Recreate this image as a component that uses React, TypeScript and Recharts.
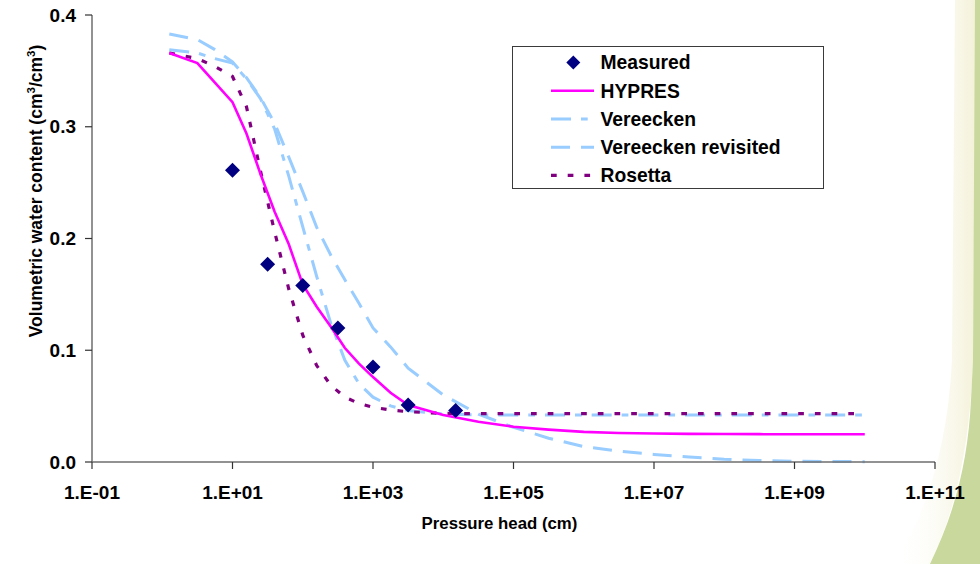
import React from 'react';
import { ComposedChart, Line, Scatter, XAxis, YAxis, Legend } from 'recharts';

// Pressure head (cm) at which model curves are sampled
const pressureHead = [1.26, 3.16, 5.62, 10, 15.8, 25.1, 39.8, 63.1, 100, 158, 251, 398, 631, 1000, 1778, 3162,
  1e4, 3.16e4, 1e5, 3.16e5, 1e6, 3.16e6, 1e7, 3.16e7, 1e8, 3.16e8, 1e9, 1e10];

const hypres = [0.366, 0.357, 0.3395, 0.322, 0.294, 0.2575, 0.224, 0.195, 0.159, 0.139, 0.121, 0.102, 0.088, 0.076, 0.062, 0.051,
  0.042, 0.036, 0.0316, 0.029, 0.027, 0.026, 0.0255, 0.0252, 0.025, 0.0249, 0.0248, 0.0248];

const vereecken = [0.369, 0.366, 0.361, 0.357, 0.343, 0.325, 0.298, 0.256, 0.2105, 0.166, 0.124, 0.091, 0.0701, 0.058, 0.0502, 0.046,
  0.043, 0.0422, 0.042, 0.042, 0.042, 0.042, 0.042, 0.042, 0.042, 0.042, 0.042, 0.042];

const vereeckenRevisited = [0.383, 0.378, 0.369, 0.358, 0.344, 0.326, 0.303, 0.273, 0.242, 0.21, 0.185, 0.163, 0.142, 0.12, 0.103, 0.084,
  0.06, 0.0428, 0.031, 0.0213, 0.0138, 0.0097, 0.0068, 0.0044, 0.0025, 0.0013, 0.0007, 0.0003];

const rosetta = [0.366, 0.361, 0.354, 0.345, 0.318, 0.26, 0.206, 0.155, 0.1135, 0.0863, 0.0686, 0.058, 0.0524, 0.049, 0.0465, 0.045,
  0.0435, 0.0432, 0.0432, 0.0432, 0.0432, 0.0432, 0.0432, 0.0432, 0.0432, 0.0432, 0.0432, 0.0432];

// Measured points
const measuredHead = [10, 31.6, 100, 316, 1000, 3160, 15000];
const measuredTheta = [0.261, 0.177, 0.158, 0.12, 0.085, 0.051, 0.046];

const xTicks = [0.1, 10, 1e3, 1e5, 1e7, 1e9, 1e11];
const yTicks = [0, 0.1, 0.2, 0.3, 0.4];

const legendOrder = ['Measured', 'HYPRES', 'Vereecken', 'Vereecken revisited', 'Rosetta'];

const FONT = '"Liberation Sans", Arial, Helvetica, sans-serif';

const STYLE: Record<string, { color: string; width: number; dash?: string; marker?: boolean }> = {
  Measured: { color: '#000080', width: 0, marker: true },
  HYPRES: { color: '#FF00FF', width: 2.6 },
  Vereecken: { color: '#99CCFF', width: 3, dash: '20 10 6.7 10' },
  'Vereecken revisited': { color: '#99CCFF', width: 3, dash: '19 11' },
  Rosetta: { color: '#800080', width: 3.2, dash: '5.7 11' },
};

const toRows = (ys: number[]) => pressureHead.map((h, i) => ({ h, theta: ys[i] }));
const hypresData = toRows(hypres);
const vereeckenData = toRows(vereecken);
const revisitedData = toRows(vereeckenRevisited);
const rosettaData = toRows(rosetta);
const measuredData = measuredHead.map((h, i) => ({ h, theta: measuredTheta[i] }));

const fmtX = (v: number) => {
  const e = Math.round(Math.log10(v));
  const sign = e < 0 ? '-' : '+';
  const a = Math.abs(e);
  return `1.E${sign}${a < 10 ? '0' + a : a}`;
};

const Diamond = (props: any) => {
  const { cx, cy } = props;
  if (cx == null || cy == null) return null;
  const r = 7.5;
  return <path d={`M${cx},${cy - r}L${cx + r},${cy}L${cx},${cy + r}L${cx - r},${cy}Z`} fill="#000080" />;
};

const renderLegend = () => {
  const w = 312;
  const h = 143;
  return (
    <svg width={w} height={h} style={{ display: 'block' }}>
      {legendOrder.map((name, i) => {
        const s = STYLE[name];
        const y = 15.6 + i * 28.2;
        return (
          <g key={name}>
            {s.marker ? (
              <path d={`M60.3,${y - 7}L67.3,${y}L60.3,${y + 7}L53.3,${y}Z`} fill={s.color} />
            ) : (
              <line x1={38} x2={81} y1={y} y2={y} stroke={s.color} strokeWidth={s.width} strokeDasharray={s.dash} />
            )}
            <text x={87.5} y={y + 6.8} fontFamily={FONT} fontWeight="bold" fontSize={19.3} fill="#000">
              {name}
            </text>
          </g>
        );
      })}
    </svg>
  );
};

const XTitle = (props: any) => {
  const vb = props.viewBox || {};
  const cx = (vb.x ?? 92) + (vb.width ?? 843) / 2 - 14;
  const y = (vb.y ?? 462) + 67;
  return (
    <text x={cx} y={y} textAnchor="middle" fontFamily={FONT} fontWeight="bold" fontSize={16.8} fill="#000">
      Pressure head (cm)
    </text>
  );
};

const YTitle = (props: any) => {
  const vb = props.viewBox || {};
  const x = (vb.x ?? 32) + 9.5;
  const y = (vb.y ?? 15) + 176;
  return (
    <text x={x} y={y} transform={`rotate(-90, ${x}, ${y})`} textAnchor="middle" fontFamily={FONT} fontWeight="bold" fontSize={17.5} fill="#000">
      <tspan>Volumetric water content (cm</tspan>
      <tspan dy={-6.5} fontSize={11.5}>3</tspan>
      <tspan dy={6.5}>/cm</tspan>
      <tspan dy={-6.5} fontSize={11.5}>3</tspan>
      <tspan dy={6.5}>)</tspan>
    </text>
  );
};

const tickStyle = { fill: '#000', fontSize: 19, fontWeight: 'bold', fontFamily: FONT };

export default function App() {
  return (
    <div style={{ position: 'absolute', left: 0, top: 0, width: 980, height: 564, background: '#fff', overflow: 'hidden' }}>
      <svg width={980} height={564} style={{ position: 'absolute', left: 0, top: 0 }}>
        <defs>
          <linearGradient id="creamFade" x1="0" x2="1" y1="0" y2="0">
            <stop offset="0" stopColor="#ffffff" stopOpacity="0" />
            <stop offset="1" stopColor="#F4F1D8" stopOpacity="1" />
          </linearGradient>
        </defs>
        <path d="M955,0 L976,0 L973,360 C970,440 958,505 930,564 L895,564 C930,505 948,440 952,360 Z" fill="url(#creamFade)" />
        <path d="M975,0 L980,0 L980,564 L930,564 C956,510 968,460 971,400 L973,360 Z" fill="#C9D89C" />
      </svg>
      <div style={{ position: 'absolute', left: 0, top: 0 }}>
        <ComposedChart width={980} height={564} margin={{ top: 15, right: 45, bottom: 42, left: 32 }}>
          <XAxis
            dataKey="h"
            type="number"
            scale="log"
            domain={[0.1, 1e11]}
            ticks={xTicks}
            interval={0}
            allowDataOverflow
            height={60}
            tickFormatter={fmtX}
            tick={tickStyle}
            tickSize={7}
            tickMargin={17}
            axisLine={{ stroke: '#6e6e6e', strokeWidth: 1.5 }}
            tickLine={{ stroke: '#333', strokeWidth: 1.2 }}
            label={{ content: XTitle }}
          />
          <YAxis
            dataKey="theta"
            type="number"
            domain={[0, 0.4]}
            ticks={yTicks}
            interval={0}
            width={60}
            tickFormatter={(v: number) => v.toFixed(1)}
            tick={tickStyle}
            tickSize={7}
            tickMargin={9}
            axisLine={{ stroke: '#6e6e6e', strokeWidth: 1.5 }}
            tickLine={{ stroke: '#333', strokeWidth: 1.2 }}
            label={{ content: YTitle }}
          />
          <Legend
            layout="vertical"
            align="center"
            verticalAlign="middle"
            content={renderLegend}
            wrapperStyle={{
              left: 512,
              top: 46,
              width: 312,
              height: 143,
              border: '1.5px solid #3a3a3a',
              background: '#fff',
              boxSizing: 'border-box',
              margin: 0,
              padding: 0,
              overflow: 'hidden',
            }}
          />
          <Line
            data={revisitedData}
            dataKey="theta"
            name="Vereecken revisited"
            stroke={STYLE['Vereecken revisited'].color}
            strokeWidth={STYLE['Vereecken revisited'].width}
            strokeDasharray={STYLE['Vereecken revisited'].dash}
            dot={false}
            activeDot={false}
            type="linear"
            isAnimationActive={false}
          />
          <Line
            data={vereeckenData}
            dataKey="theta"
            name="Vereecken"
            stroke={STYLE.Vereecken.color}
            strokeWidth={STYLE.Vereecken.width}
            strokeDasharray={STYLE.Vereecken.dash}
            dot={false}
            activeDot={false}
            type="linear"
            isAnimationActive={false}
          />
          <Line
            data={rosettaData}
            dataKey="theta"
            name="Rosetta"
            stroke={STYLE.Rosetta.color}
            strokeWidth={STYLE.Rosetta.width}
            strokeDasharray={STYLE.Rosetta.dash}
            dot={false}
            activeDot={false}
            type="linear"
            isAnimationActive={false}
          />
          <Line
            data={hypresData}
            dataKey="theta"
            name="HYPRES"
            stroke={STYLE.HYPRES.color}
            strokeWidth={STYLE.HYPRES.width}
            dot={false}
            activeDot={false}
            type="linear"
            isAnimationActive={false}
          />
          <Scatter
            data={measuredData}
            dataKey="theta"
            name="Measured"
            fill="#000080"
            shape={Diamond}
            isAnimationActive={false}
          />
        </ComposedChart>
      </div>
    </div>
  );
}
